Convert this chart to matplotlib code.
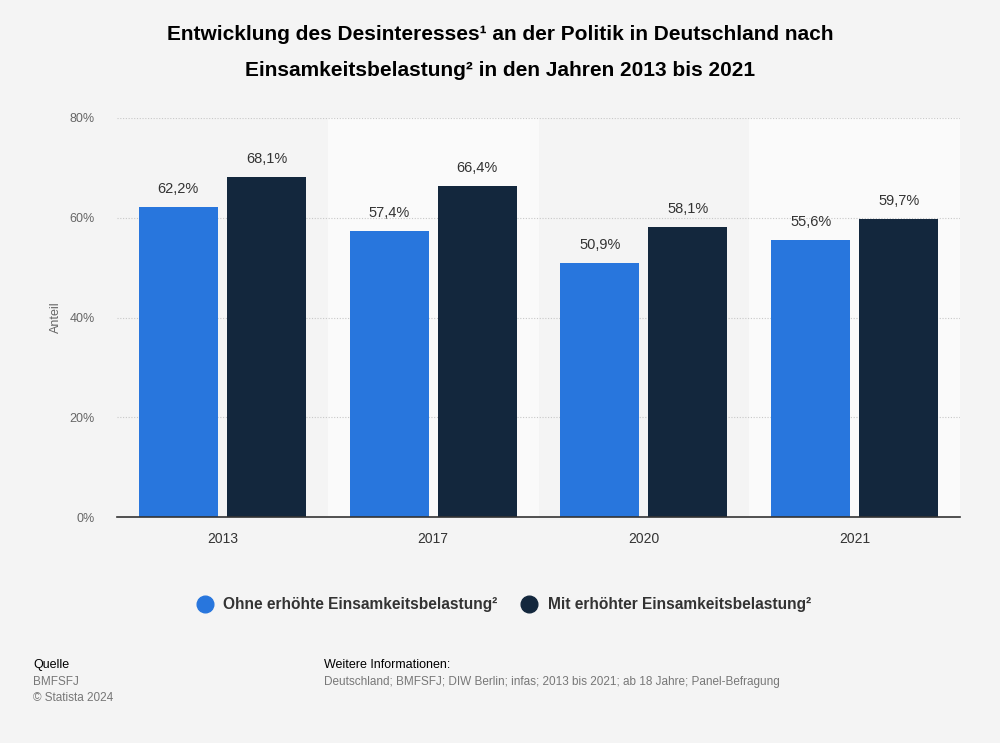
import matplotlib
matplotlib.use("Agg")
import matplotlib.pyplot as plt
from matplotlib.lines import Line2D
import numpy as np

years = ["2013", "2017", "2020", "2021"]
ohne = [62.2, 57.4, 50.9, 55.6]
mit = [68.1, 66.4, 58.1, 59.7]
series_names = ["Ohne erhöhte Einsamkeitsbelastung²", "Mit erhöhter Einsamkeitsbelastung²"]
yticks = [0, 20, 40, 60, 80]

plt.rcParams['font.family'] = ['Liberation Sans', 'DejaVu Sans']
BG = "#f4f4f4"
C1 = "#2876dd"
C2 = "#13273d"

fig = plt.figure(figsize=(10, 7.43), dpi=100, facecolor=BG)
W, H = 1000, 743
ax = fig.add_axes([117 / W, 1 - 517 / H, (960 - 117) / W, (517 - 118) / H])
ax.set_facecolor(BG)

x = np.arange(len(years))
bw = 0.375
off = 0.209
ax.set_xlim(-0.5, len(years) - 0.5)
ax.set_ylim(0, 80)

for i in range(len(years)):
    if i % 2 == 1:
        ax.axvspan(i - 0.5, i + 0.5, color="#fafafa", zorder=0, lw=0)

ax.set_yticks(yticks)
ax.set_yticklabels([f"{v}%" for v in yticks])
for v in yticks[1:]:
    ax.axhline(v, color="#c8c8c8", lw=0.8, ls=(0, (1, 1.5)), zorder=1)

b1 = ax.bar(x - off, ohne, bw, color=C1, zorder=3)
b2 = ax.bar(x + off, mit, bw, color=C2, zorder=3)

def fmt(v):
    return f"{v:.1f}%".replace(".", ",")

for bars, vals in ((b1, ohne), (b2, mit)):
    for r, v in zip(bars, vals):
        ax.annotate(fmt(v), (r.get_x() + r.get_width() / 2, v), xytext=(0, 8),
                    textcoords="offset points", ha="center", va="bottom",
                    fontsize=10.5, color="#333333", zorder=4)

ax.set_xticks(x)
ax.set_xticklabels(years)
for s in ["top", "right", "left"]:
    ax.spines[s].set_visible(False)
ax.spines["bottom"].set_color("#333333")
ax.spines["bottom"].set_linewidth(1.2)
ax.spines["bottom"].set_zorder(5)
ax.tick_params(axis="x", length=0, pad=11, labelsize=10, labelcolor="#333333")
ax.tick_params(axis="y", length=0, pad=16, labelsize=9, labelcolor="#666666")
ax.set_ylabel("Anteil", fontsize=9, color="#666666")
ax.yaxis.set_label_coords((62 - 117) / (960 - 117), 0.5)

fig.text(0.5, 1 - 35 / H, "Entwicklung des Desinteresses¹ an der Politik in Deutschland nach",
         ha="center", va="center", fontsize=15, fontweight="bold", color="#000000")
fig.text(0.5, 1 - 70 / H, "Einsamkeitsbelastung² in den Jahren 2013 bis 2021",
         ha="center", va="center", fontsize=15, fontweight="bold", color="#000000")

handles = [Line2D([0], [0], marker="o", ls="", markersize=12, markerfacecolor=C1, markeredgecolor=C1),
           Line2D([0], [0], marker="o", ls="", markersize=12, markerfacecolor=C2, markeredgecolor=C2)]
leg = fig.legend(handles, series_names, loc="center", bbox_to_anchor=(0.5, 1 - 605 / H),
                 ncol=2, frameon=False, fontsize=11.2, handletextpad=0.2, columnspacing=1.0)
for t in leg.get_texts():
    t.set_fontweight("bold")
    t.set_color("#333333")

fig.text(33 / W, 1 - 665 / H, "Quelle", fontsize=9, color="#000000", va="center")
fig.text(33 / W, 1 - 682 / H, "BMFSFJ", fontsize=8.5, color="#777777", va="center")
fig.text(33 / W, 1 - 698 / H, "© Statista 2024", fontsize=8.5, color="#777777", va="center")
fig.text(324 / W, 1 - 665 / H, "Weitere Informationen:", fontsize=9, color="#000000", va="center")
fig.text(324 / W, 1 - 682 / H, "Deutschland; BMFSFJ; DIW Berlin; infas; 2013 bis 2021; ab 18 Jahre; Panel-Befragung",
         fontsize=8.5, color="#777777", va="center")

fig.savefig("out.png", dpi=100, facecolor=BG)
